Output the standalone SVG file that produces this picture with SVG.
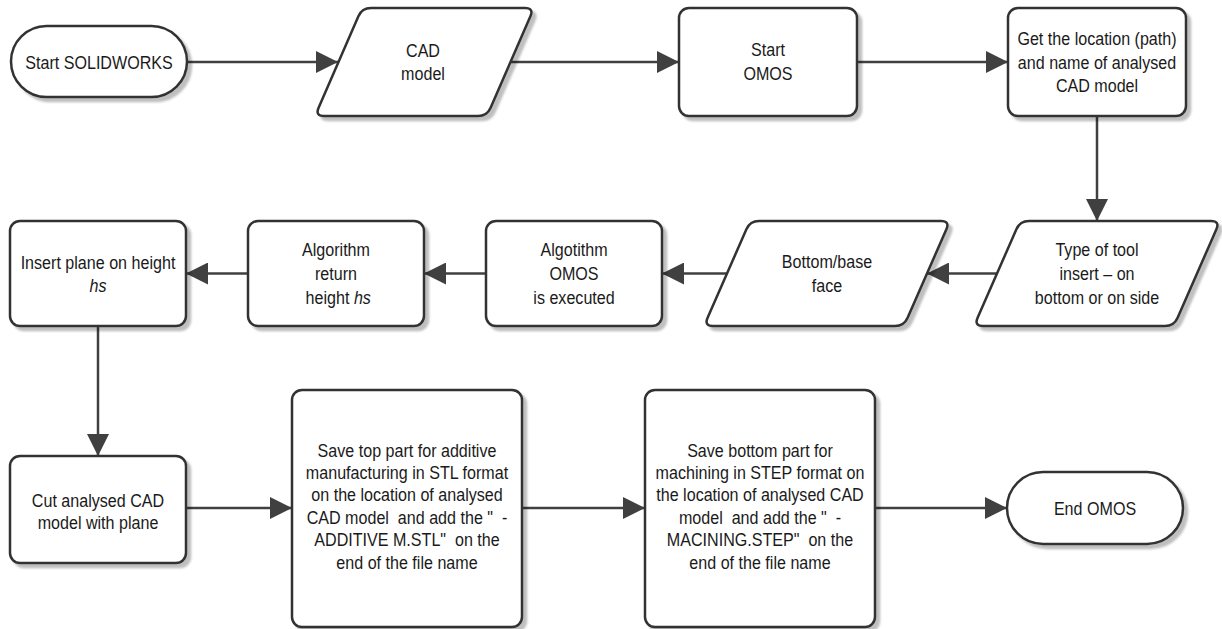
<svg xmlns="http://www.w3.org/2000/svg" width="1222" height="629" viewBox="0 0 1222 629">
<style>
.s{fill:#fff;stroke:#333;stroke-width:2.5;filter:url(#sh)}
.t{font-family:"Liberation Sans",Arial,sans-serif;font-size:18.5px;fill:#1a1a1a;text-anchor:middle;white-space:pre}
.c{fill:none;stroke:#404040;stroke-width:2.5;marker-end:url(#ah)}
</style>
<defs>
<filter id="sh" x="-10%" y="-10%" width="125%" height="125%">
<feDropShadow dx="4" dy="4" stdDeviation="1.2" flood-color="#000" flood-opacity="0.25"/>
</filter>
<marker id="ah" markerUnits="userSpaceOnUse" markerWidth="22" markerHeight="22" refX="22" refY="11" orient="auto">
<path d="M0,0 L22,11 L0,22 Z" fill="#404040"/>
</marker>
</defs>
<rect width="1222" height="629" fill="#fff"/>
<g id="connectors">
<line class="c" x1="187" y1="62" x2="338" y2="62"/>
<line class="c" x1="511" y1="62" x2="679" y2="62"/>
<line class="c" x1="857" y1="62" x2="1008" y2="62"/>
<line class="c" x1="1097" y1="116" x2="1097" y2="221"/>
<line class="c" x1="997" y1="273.5" x2="927" y2="273.5"/>
<line class="c" x1="727" y1="273.5" x2="662" y2="273.5"/>
<line class="c" x1="486" y1="273.5" x2="424" y2="273.5"/>
<line class="c" x1="248" y1="273.5" x2="186" y2="273.5"/>
<line class="c" x1="98" y1="326" x2="98" y2="456"/>
<line class="c" x1="186" y1="508" x2="292" y2="508"/>
<line class="c" x1="522" y1="508" x2="645" y2="508"/>
<line class="c" x1="875" y1="508" x2="1007" y2="508"/>
</g>
<g id="start-solidworks">
<rect class="s" x="11" y="26" width="176" height="71" rx="35.5"/>
<text class="t" transform="translate(99,69) scale(0.87,1)">Start SOLIDWORKS</text>
</g>
<g id="cad-model">
<path class="s" d="M324,116 L478,116 Q487,116 490.6,107.75 L530.4,16.25 Q534,8 525,8 L371,8 Q362,8 358.4,16.25 L318.6,107.75 Q315,116 324,116 Z"/>
<text class="t" transform="translate(423,57) scale(0.87,1)">CAD</text>
<text class="t" transform="translate(423,80) scale(0.87,1)">model</text>
</g>
<g id="start-omos">
<rect class="s" x="679" y="8" width="178" height="108" rx="10"/>
<text class="t" transform="translate(768,56) scale(0.87,1)">Start</text>
<text class="t" transform="translate(768,80) scale(0.87,1)">OMOS</text>
</g>
<g id="get-location">
<rect class="s" x="1008" y="8" width="178" height="108" rx="10"/>
<text class="t" transform="translate(1097,45) scale(0.87,1)">Get the location (path)</text>
<text class="t" transform="translate(1097,69) scale(0.87,1)">and name of analysed</text>
<text class="t" transform="translate(1097,92) scale(0.87,1)">CAD model</text>
</g>
<g id="type-of-tool">
<path class="s" d="M983,326 L1165,326 Q1174,326 1177.6,317.75 L1216.4,229.25 Q1220,221 1211,221 L1029,221 Q1020,221 1016.4,229.25 L977.6,317.75 Q974,326 983,326 Z"/>
<text class="t" transform="translate(1097,256) scale(0.87,1)">Type of tool</text>
<text class="t" transform="translate(1097,280) scale(0.87,1)">insert – on</text>
<text class="t" transform="translate(1097,304) scale(0.87,1)">bottom or on side</text>
</g>
<g id="bottom-base-face">
<path class="s" d="M713,326 L895,326 Q904,326 907.6,317.75 L946.4,229.25 Q950,221 941,221 L759,221 Q750,221 746.4,229.25 L707.6,317.75 Q704,326 713,326 Z"/>
<text class="t" transform="translate(827,268) scale(0.87,1)">Bottom/base</text>
<text class="t" transform="translate(827,292) scale(0.87,1)">face</text>
</g>
<g id="algotithm-omos">
<rect class="s" x="486" y="221" width="176" height="105" rx="10"/>
<text class="t" transform="translate(574,256) scale(0.87,1)">Algotithm</text>
<text class="t" transform="translate(574,280) scale(0.87,1)">OMOS</text>
<text class="t" transform="translate(574,304) scale(0.87,1)">is executed</text>
</g>
<g id="algorithm-return">
<rect class="s" x="248" y="221" width="176" height="105" rx="10"/>
<text class="t" transform="translate(336,256) scale(0.87,1)">Algorithm</text>
<text class="t" transform="translate(336,280) scale(0.87,1)">return</text>
<text class="t" transform="translate(336,304) scale(0.87,1)"> height <tspan font-style="italic">hs</tspan></text>
</g>
<g id="insert-plane">
<rect class="s" x="10" y="221" width="176" height="105" rx="10"/>
<text class="t" transform="translate(98,269) scale(0.87,1)">Insert plane on height</text>
<text class="t" transform="translate(98,292) scale(0.87,1)" font-style="italic">hs</text>
</g>
<g id="cut-model">
<rect class="s" x="10" y="456" width="176" height="107" rx="10"/>
<text class="t" transform="translate(98,507) scale(0.87,1)">Cut analysed CAD</text>
<text class="t" transform="translate(98,529) scale(0.87,1)">model with plane</text>
</g>
<g id="save-top">
<rect class="s" x="292" y="390" width="230" height="237" rx="10"/>
<text class="t" transform="translate(407,457) scale(0.87,1)">Save top part for additive</text>
<text class="t" transform="translate(407,479) scale(0.87,1)">manufacturing in STL format</text>
<text class="t" transform="translate(407,501) scale(0.87,1)">on the location of analysed</text>
<text class="t" transform="translate(407,524) scale(0.87,1)">CAD model  and add the "  -</text>
<text class="t" transform="translate(407,546) scale(0.87,1)">ADDITIVE M.STL"  on the</text>
<text class="t" transform="translate(407,569) scale(0.87,1)">end of the file name</text>
</g>
<g id="save-bottom">
<rect class="s" x="645" y="390" width="230" height="237" rx="10"/>
<text class="t" transform="translate(760,457) scale(0.87,1)">Save bottom part for</text>
<text class="t" transform="translate(760,479) scale(0.87,1)">machining in STEP format on</text>
<text class="t" transform="translate(760,501) scale(0.87,1)">the location of analysed CAD</text>
<text class="t" transform="translate(760,524) scale(0.87,1)">model  and add the "  -</text>
<text class="t" transform="translate(760,546) scale(0.87,1)">MACINING.STEP"  on the</text>
<text class="t" transform="translate(760,569) scale(0.87,1)">end of the file name</text>
</g>
<g id="end-omos">
<rect class="s" x="1007" y="472" width="176" height="72" rx="36"/>
<text class="t" transform="translate(1095,515) scale(0.87,1)">End OMOS</text>
</g>
</svg>
